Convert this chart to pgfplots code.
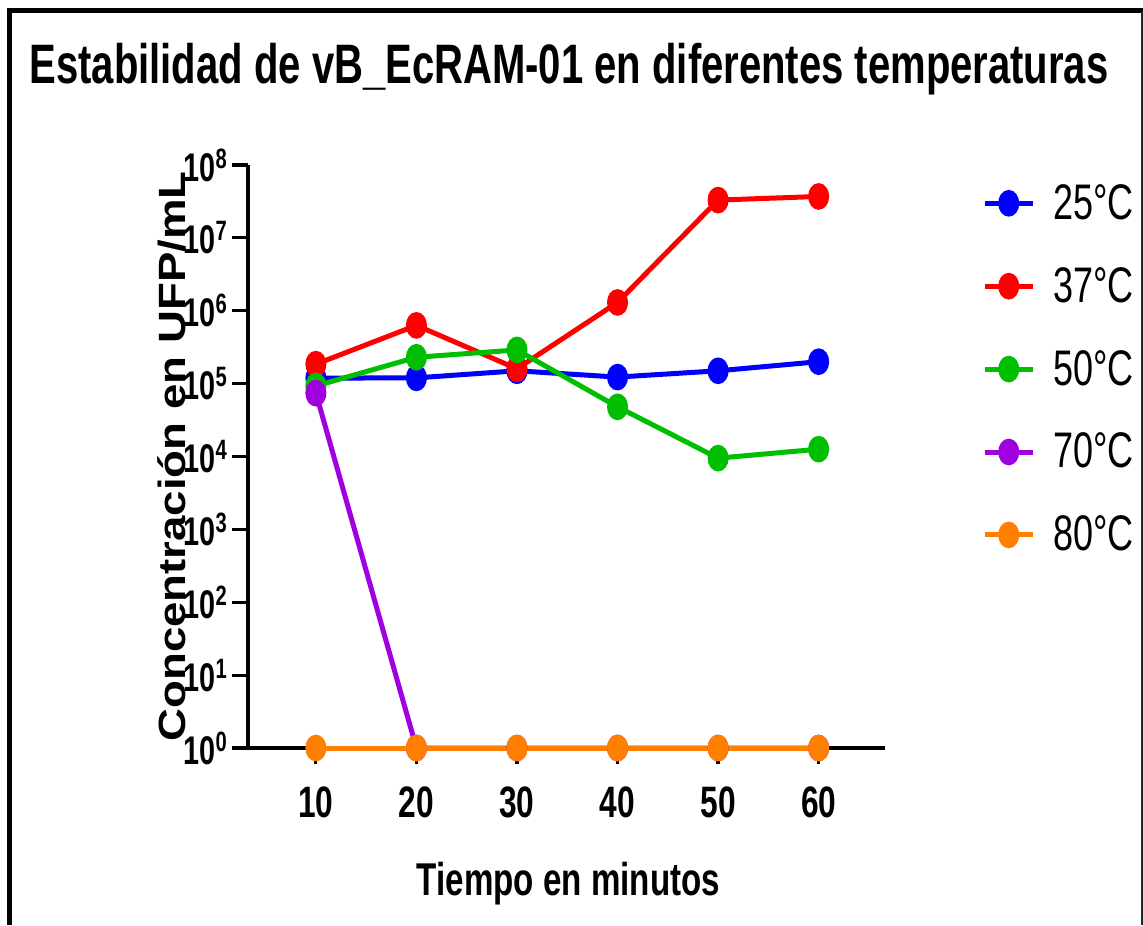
\documentclass[border=0pt]{standalone}
\usepackage{fontspec}
\setmainfont{Liberation Sans}[FakeStretch=0.72]
\newfontfamily\ylabfont{Liberation Sans}[FakeStretch=1.2]
\usepackage{pgfplots}
\pgfplotsset{compat=1.18}

\definecolor{c25}{RGB}{0,0,255}
\definecolor{c37}{RGB}{255,0,0}
\definecolor{c50}{RGB}{0,190,0}
\definecolor{c70}{RGB}{160,0,224}
\definecolor{c80}{RGB}{255,128,0}

\newcommand{\ex}[1]{10\raisebox{6.5pt}{\fontsize{14}{14}\selectfont #1}}

\begin{document}
\begin{tikzpicture}
% 1 px of the reference = 0.5pt
\path[use as bounding box] (0pt,0pt) rectangle (571.5pt,-462.5pt);
\draw[line width=2.5pt] (4.75pt,-462.5pt) -- (4.75pt,-5.5pt) -- (571.5pt,-5.5pt);
\draw[line width=1pt, black!85] (570.8pt,-5.5pt) -- (570.8pt,-462.5pt);

\begin{axis}[
  at={(124pt,-374pt)}, anchor=south west,
  scale only axis, width=318.5pt, height=291.5pt,
  clip=false,
  axis x line*=bottom, axis y line*=left,
  axis line style={line width=2pt, black},
  xmin=3.25, xmax=66.6,
  ymode=log, ymin=1, ymax=1e8,
  xtick={10,20,30,40,50,60},
  ytick={1,10,100,1000,10000,100000,1000000,10000000,100000000},
  yticklabels={\ex{0},\ex{1},\ex{2},\ex{3},\ex{4},\ex{5},\ex{6},\ex{7},\ex{8}},
  minor tick num=0, yminorticks=false,
  tick align=outside, major tick length=8pt,
  every tick/.style={line width=1.6pt, black},
  /pgf/number format/assume math mode=true,
  xticklabel style={font=\fontsize{22}{22}\selectfont\bfseries, yshift=-8pt},
  yticklabel style={font=\fontsize{20}{20}\selectfont\bfseries, xshift=1pt},
  title={Estabilidad de vB\_EcRAM-01 en diferentes temperaturas},
  title style={font=\fontsize{27.8}{27.8}\selectfont\bfseries, at={(axis description cs:0.504,1.144)}, anchor=center},
  xlabel={Tiempo en minutos},
  xlabel style={font=\fontsize{23}{23}\selectfont\bfseries, at={(axis description cs:0.503,-0.232)}, anchor=center},
  ylabel={Concentración en UFP/mL},
  ylabel style={font=\ylabfont\fontsize{19}{19}\selectfont\bfseries, at={(axis description cs:-0.119,0.5)}, anchor=center},
  every axis plot/.append style={line width=2.5pt, mark=*, mark size=4pt, mark options={solid, yscale=1.35}},
  legend image code/.code={\draw[mark repeat=2,mark phase=2,#1] plot coordinates {(0pt,0pt) (12pt,0pt) (24pt,0pt)};},
  legend cell align=left,
  legend style={draw=none, fill=none, at={(axis description cs:1.152,0.971)}, anchor=north west,
    font=\fontsize{25}{25}\selectfont, row sep=20.5pt, column sep=8pt, inner sep=0pt,
    nodes={inner sep=1pt}},
]
\addplot[color=c25] coordinates {(10,1.19e5) (20,1.2e5) (30,1.5e5) (40,1.23e5) (50,1.5e5) (60,2.0e5)};
\addlegendentry{25°C}
\addplot[color=c37] coordinates {(10,1.85e5) (20,6.3e5) (30,1.6e5) (40,1.3e6) (50,3.3e7) (60,3.7e7)};
\addlegendentry{37°C}
\addplot[color=c50] coordinates {(10,9.3e4) (20,2.3e5) (30,2.9e5) (40,4.8e4) (50,9.5e3) (60,1.26e4)};
\addlegendentry{50°C}
\addplot[color=c70] coordinates {(10,7.4e4) (20,1) (30,1) (40,1) (50,1) (60,1)};
\addlegendentry{70°C}
\addplot[color=c80] coordinates {(10,1) (20,1) (30,1) (40,1) (50,1) (60,1)};
\addlegendentry{80°C}
\end{axis}
\end{tikzpicture}
\end{document}
